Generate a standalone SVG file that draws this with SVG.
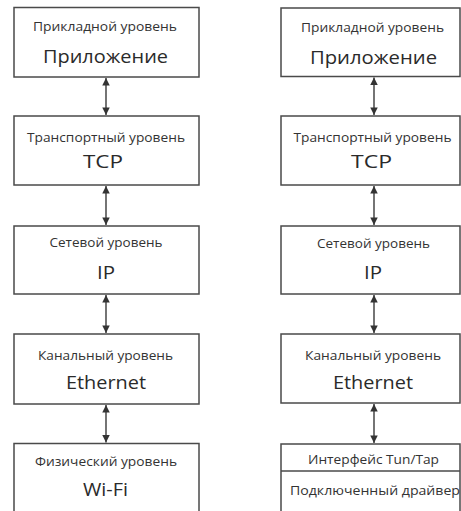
<svg xmlns="http://www.w3.org/2000/svg" width="461" height="511" viewBox="0 0 461 511">
  <defs>
    <style>
      .box { fill: #ffffff; stroke: #4a4a4a; stroke-width: 1.5; }
      .sep { stroke: #4a4a4a; stroke-width: 1.5; }
      .lvl { font-family: "Open Sans", "Liberation Sans", sans-serif; font-size: 12.3px; fill: #333333; text-anchor: middle; }
      .name { font-family: "Open Sans", "Liberation Sans", sans-serif; font-size: 18.5px; fill: #2a2a2a; text-anchor: middle; }
      .drv { font-family: "Open Sans", "Liberation Sans", sans-serif; font-size: 13.5px; fill: #333333; text-anchor: middle; }
      .link { fill: none; stroke: #3a3a3a; stroke-width: 1.4; marker-start: url(#head); marker-end: url(#head); }
    </style>
    <marker id="head" viewBox="0 0 10 10" refX="10" refY="5" markerUnits="userSpaceOnUse" markerWidth="10" markerHeight="7.5" orient="auto-start-reverse">
      <path d="M0,0 L10,5 L0,10 z" fill="#333333"/>
    </marker>
  </defs>
  <rect width="461" height="511" fill="#ffffff"/>

  <!-- left stack: ordinary network interface -->
  <g id="l-app">
    <rect class="box" x="14" y="7.5" width="185" height="69.5"/>
    <text class="lvl" x="105" y="30.5" textLength="144" lengthAdjust="spacingAndGlyphs">Прикладной уровень</text>
    <text class="name" x="105.5" y="63" textLength="125" lengthAdjust="spacingAndGlyphs">Приложение</text>
  </g>
  <g id="l-tcp">
    <rect class="box" x="14" y="116" width="185" height="69"/>
    <text class="lvl" x="106" y="142" textLength="158" lengthAdjust="spacingAndGlyphs">Транспортный уровень</text>
    <text class="name" x="103" y="168.3" textLength="40" lengthAdjust="spacingAndGlyphs">TCP</text>
  </g>
  <g id="l-ip">
    <rect class="box" x="14" y="226" width="185" height="68"/>
    <text class="lvl" x="106" y="247" textLength="113" lengthAdjust="spacingAndGlyphs">Сетевой уровень</text>
    <text class="name" x="106" y="278.5" textLength="18" lengthAdjust="spacingAndGlyphs">IP</text>
  </g>
  <g id="l-eth">
    <rect class="box" x="14" y="334" width="185" height="70"/>
    <text class="lvl" x="105.5" y="359.5" textLength="135" lengthAdjust="spacingAndGlyphs">Канальный уровень</text>
    <text class="name" x="106" y="389" textLength="80" lengthAdjust="spacingAndGlyphs">Ethernet</text>
  </g>
  <g id="l-phy">
    <rect class="box" x="14" y="443.5" width="185" height="80"/>
    <text class="lvl" x="106" y="465.5" textLength="142" lengthAdjust="spacingAndGlyphs">Физический уровень</text>
    <text class="name" x="105.5" y="495.5" textLength="45" lengthAdjust="spacingAndGlyphs">Wi-Fi</text>
  </g>

  <!-- right stack: virtual Tun/Tap interface -->
  <g id="r-app">
    <rect class="box" x="281" y="8" width="179" height="68.5"/>
    <text class="lvl" x="372.5" y="31.5" textLength="143" lengthAdjust="spacingAndGlyphs">Прикладной уровень</text>
    <text class="name" x="373.5" y="64" textLength="127" lengthAdjust="spacingAndGlyphs">Приложение</text>
  </g>
  <g id="r-tcp">
    <rect class="box" x="281" y="116" width="179" height="69"/>
    <text class="lvl" x="372.5" y="142" textLength="158" lengthAdjust="spacingAndGlyphs">Транспортный уровень</text>
    <text class="name" x="371.5" y="168.3" textLength="41" lengthAdjust="spacingAndGlyphs">TCP</text>
  </g>
  <g id="r-ip">
    <rect class="box" x="281" y="226" width="179" height="68"/>
    <text class="lvl" x="373.5" y="248" textLength="113" lengthAdjust="spacingAndGlyphs">Сетевой уровень</text>
    <text class="name" x="373" y="278.5" textLength="18" lengthAdjust="spacingAndGlyphs">IP</text>
  </g>
  <g id="r-eth">
    <rect class="box" x="281" y="334" width="179" height="69"/>
    <text class="lvl" x="373" y="360" textLength="136" lengthAdjust="spacingAndGlyphs">Канальный уровень</text>
    <text class="name" x="373" y="389" textLength="80" lengthAdjust="spacingAndGlyphs">Ethernet</text>
  </g>
  <g id="r-tun">
    <rect class="box" x="281" y="444" width="179" height="80"/>
    <line class="sep" x1="281" y1="471" x2="460" y2="471"/>
    <text class="drv" x="373.5" y="463.5" textLength="131" lengthAdjust="spacingAndGlyphs">Интерфейс Tun/Tap</text>
    <text class="drv" x="375" y="495" textLength="170" lengthAdjust="spacingAndGlyphs">Подключенный драйвер</text>
  </g>

  <!-- two-way links between neighbouring layers -->
  <g id="connectors">
    <path class="link" d="M106,78 V115"/>
    <path class="link" d="M106,186 V225"/>
    <path class="link" d="M106,295 V333"/>
    <path class="link" d="M106,405 V442.5"/>
    <path class="link" d="M374,77.5 V115"/>
    <path class="link" d="M374,186 V225"/>
    <path class="link" d="M374,295 V333"/>
    <path class="link" d="M374,404 V443"/>
  </g>
</svg>
